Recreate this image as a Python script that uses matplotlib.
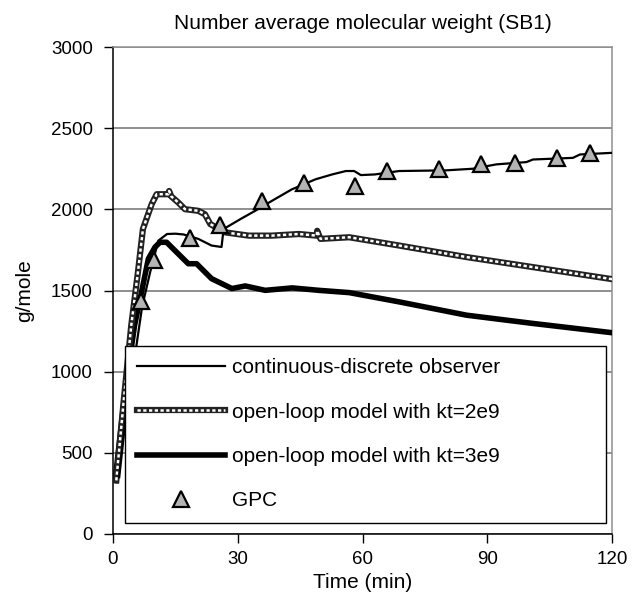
import matplotlib
matplotlib.use('Agg')
import matplotlib.pyplot as plt
from matplotlib.legend_handler import HandlerTuple

plt.rcParams['font.family'] = ['Liberation Sans', 'DejaVu Sans']

# Data
t_obs = [1.5, 3, 5, 7, 9, 10.9, 13, 15, 17, 20.5, 23.7, 26.1, 26.6, 27.8, 31,
         34.2, 38.2, 43, 48.7, 52.7, 56, 58, 59.6, 63, 68.8, 80, 86.5, 92.2,
         99.4, 101, 110.6, 112.3, 120]
y_obs = [350, 700, 1050, 1400, 1620, 1807, 1848, 1850, 1845, 1818, 1777, 1768,
         1879, 1897, 1945, 1991, 2052, 2123, 2185, 2215, 2236, 2236, 2211, 2215,
         2236, 2240, 2250, 2277, 2291, 2307, 2317, 2338, 2348]

t_kt2 = [0.8, 2.5, 4.4, 6.0, 7.2, 9.3, 10.5, 13.3, 13.5, 14, 15.7, 17.3, 20.5,
         22.1, 23.4, 27, 32.6, 38.2, 44.7, 49.0, 49.1, 49.9, 56.8, 68.8, 85,
         101, 120]
y_kt2 = [330, 800, 1287, 1614, 1879, 2032, 2093, 2093, 2113, 2080, 2042, 2001,
         1991, 1970, 1909, 1858, 1838, 1838, 1848, 1838, 1868, 1818, 1828, 1777,
         1706, 1644, 1570]

t_kt3 = [0.5, 3, 5.2, 7.2, 8.5, 10.1, 11.3, 12.9, 14.9, 18.1, 20.1, 23.7, 28.6,
         31.8, 36.6, 43.1, 49.5, 56.8, 68.8, 85, 101, 120]
y_kt3 = [330, 900, 1287, 1532, 1695, 1767, 1797, 1797, 1746, 1665, 1665, 1573,
         1512, 1528, 1501, 1516, 1501, 1487, 1430, 1348, 1297, 1240]

t_gpc = [6.8, 9.9, 18.5, 25.8, 35.8, 45.9, 58.2, 66.0, 78.3, 88.4, 96.6,
         106.7, 114.6]
y_gpc = [1434, 1685, 1822, 1903, 2052, 2165, 2144, 2236, 2246, 2277, 2287,
         2317, 2348]

fig = plt.figure(figsize=(6.36, 6.0), dpi=100)
ax = fig.add_axes([113 / 636, 66 / 600, 499 / 636, 487 / 600])

# open-loop kt=3e9: thick solid
l3, = ax.plot(t_kt3, y_kt3, color='black', lw=4, solid_joinstyle='round', zorder=3)

# open-loop kt=2e9: thick line with small white squares inside
l2a, = ax.plot(t_kt2, y_kt2, color='#222222', lw=4.5, zorder=4)
l2b, = ax.plot(t_kt2, y_kt2, color='white', lw=1.8, dashes=(1.3, 1.0), zorder=4)

# observer: thin line
l1, = ax.plot(t_obs, y_obs, color='black', lw=1.6, zorder=5)

# GPC measurements
lg, = ax.plot(t_gpc, y_gpc, linestyle='none', marker='^', markersize=11,
              markerfacecolor='#b4b4b4', markeredgecolor='black',
              markeredgewidth=1.6, zorder=6)

ax.set_xlim(0, 120)
ax.set_ylim(0, 3000)
ax.set_xticks([0, 30, 60, 90, 120])
ax.set_yticks([0, 500, 1000, 1500, 2000, 2500, 3000])
ax.yaxis.grid(True, color='#707070', lw=1.1)
ax.set_axisbelow(True)

ax.tick_params(axis='both', direction='out', length=6.5, width=1, labelsize=13.5)
ax.tick_params(axis='x', pad=6)
ax.tick_params(axis='y', pad=8)
ax.spines['left'].set_color('black')
ax.spines['bottom'].set_color('black')
ax.spines['top'].set_color('#909090')
ax.spines['right'].set_color('#909090')
for s in ax.spines.values():
    s.set_linewidth(1.1)

ax.set_title('Number average molecular weight (SB1)', fontsize=15, pad=13)
ax.set_xlabel('Time (min)', fontsize=15, labelpad=3)
ax.set_ylabel('g/mole', fontsize=15, labelpad=12)

leg = ax.legend([l1, (l2a, l2b), l3, lg],
                ['continuous-discrete observer', 'open-loop model with kt=2e9',
                 'open-loop model with kt=3e9', 'GPC'],
                handler_map={tuple: HandlerTuple(ndivide=1, pad=0)},
                loc='lower left', bbox_to_anchor=(0.024, 0.0226, 0.964, 0.3),
                mode='expand', borderaxespad=0, fontsize=15,
                handlelength=4.2, handletextpad=0.35, labelspacing=1.22,
                borderpad=0.6, fancybox=False, framealpha=1)
leg.get_frame().set_edgecolor('black')
leg.get_frame().set_linewidth(1.0)
leg.set_zorder(10)

fig.savefig('out.png', dpi=100, facecolor='white')
